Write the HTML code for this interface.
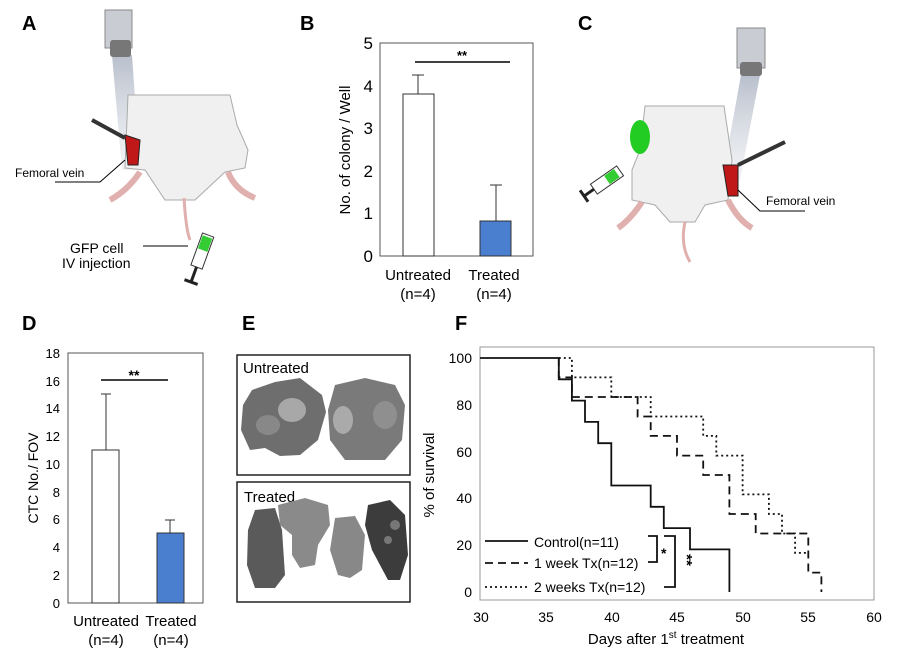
<!DOCTYPE html>
<html><head><meta charset="utf-8"><style>
body{margin:0;background:#fff}
svg{display:block;font-family:"Liberation Sans",sans-serif}
</style></head><body>
<svg width="900" height="661" viewBox="0 0 900 661">
<g font-weight="bold" font-size="20">
<text x="22" y="30">A</text><text x="300" y="30">B</text><text x="578" y="30">C</text>
<text x="22" y="330">D</text><text x="242" y="330">E</text><text x="455" y="330">F</text>
</g>
<defs><linearGradient id="lg" x1="0" y1="0" x2="0" y2="1"><stop offset="0" stop-color="#b8bfcc"/><stop offset="1" stop-color="#dde0e6" stop-opacity="0.4"/></linearGradient></defs>

<!-- Panel A -->
<polygon points="112,55 132,55 140,170 122,170" fill="url(#lg)"/>
<rect x="105" y="10" width="27" height="38" fill="#c9ccd2" stroke="#888"/>
<rect x="110" y="40" width="21" height="17" rx="3" fill="#777"/>
<path d="M128,95 L230,95 L237,125 L248,150 L245,168 L225,172 L195,200 L165,200 L145,170 L125,168 Z" fill="#f0f0f0" stroke="#aaa"/>
<path d="M140,172 Q128,190 110,200" stroke="#e0b0ae" stroke-width="6" fill="none"/>
<path d="M228,172 Q235,190 255,198" stroke="#e0b0ae" stroke-width="6" fill="none"/>
<path d="M184,198 Q186,230 190,240" stroke="#e0b0ae" stroke-width="3" fill="none"/>
<path d="M125,135 L140,140 L138,165 L128,165 Z" fill="#c01818" stroke="#222"/>
<line x1="92" y1="120" x2="125" y2="138" stroke="#333" stroke-width="4"/>
<polyline points="55,182 100,182 125,160" stroke="#000" fill="none"/>
<text x="15" y="177" font-size="12">Femoral vein</text>
<text x="70" y="253" font-size="14">GFP cell</text>
<text x="62" y="268" font-size="14">IV injection</text>
<line x1="143" y1="246" x2="188" y2="246" stroke="#000"/>
<g transform="translate(202,252) rotate(20)"><rect x="-6" y="-18" width="12" height="34" fill="#fff" stroke="#333"/><rect x="-5" y="-16" width="10" height="14" fill="#3c3"/><line x1="0" y1="16" x2="0" y2="32" stroke="#222" stroke-width="3"/><line x1="-7" y1="32" x2="7" y2="32" stroke="#222" stroke-width="3"/></g>

<!-- Panel C -->
<polygon points="741,75 760,75 740,180 722,180" fill="url(#lg)"/>
<rect x="737" y="28" width="28" height="40" fill="#c9ccd2" stroke="#888"/>
<rect x="740" y="62" width="22" height="14" rx="3" fill="#777"/>
<path d="M645,106 L724,106 L732,160 L728,200 L705,205 L695,222 L670,222 L655,205 L632,200 L632,170 L640,150 Z" fill="#f0f0f0" stroke="#aaa"/>
<ellipse cx="640" cy="137" rx="10" ry="17" fill="#22cc22"/>
<path d="M642,202 Q630,220 618,228" stroke="#e0b0ae" stroke-width="6" fill="none"/>
<path d="M728,200 Q738,220 752,228" stroke="#e0b0ae" stroke-width="6" fill="none"/>
<path d="M685,222 Q680,245 690,262" stroke="#e0b0ae" stroke-width="3" fill="none"/>
<path d="M723,165 L738,165 L738,196 L728,196 Z" fill="#c01818" stroke="#222"/>
<line x1="738" y1="165" x2="785" y2="142" stroke="#333" stroke-width="4"/>
<polyline points="738,190 760,211 805,211" stroke="#000" fill="none"/>
<text x="766" y="205" font-size="12">Femoral vein</text>
<g transform="translate(607,180) rotate(55)"><rect x="-6" y="-16" width="12" height="32" fill="#fff" stroke="#333"/><rect x="-5" y="-12" width="10" height="12" fill="#3c3"/><line x1="0" y1="16" x2="0" y2="28" stroke="#222" stroke-width="3"/><line x1="-7" y1="28" x2="7" y2="28" stroke="#222" stroke-width="3"/></g>

<!-- Panel B -->
<rect x="380" y="43" width="153" height="213" fill="none" stroke="#555"/>
<g font-size="17" text-anchor="end">
<text x="373" y="262">0</text><text x="373" y="219">1</text><text x="373" y="177">2</text><text x="373" y="134">3</text><text x="373" y="92">4</text><text x="373" y="49">5</text></g>
<text transform="translate(350,150) rotate(-90)" font-size="15" text-anchor="middle">No. of colony / Well</text>
<line x1="418" y1="94" x2="418" y2="75" stroke="#333"/><line x1="412" y1="75" x2="424" y2="75" stroke="#333"/>
<rect x="403" y="94" width="31" height="162" fill="#fff" stroke="#333"/>
<line x1="496" y1="221" x2="496" y2="185" stroke="#333"/><line x1="490" y1="185" x2="502" y2="185" stroke="#333"/>
<rect x="480" y="221" width="31" height="35" fill="#4a7fcf" stroke="#333"/>
<line x1="415" y1="62" x2="510" y2="62" stroke="#000" stroke-width="1.5"/>
<text x="462" y="60" font-size="13" text-anchor="middle" font-weight="bold">**</text>
<g font-size="15" text-anchor="middle"><text x="418" y="280">Untreated</text><text x="418" y="299">(n=4)</text><text x="494" y="280">Treated</text><text x="494" y="299">(n=4)</text></g>

<!-- Panel D -->
<rect x="68" y="353" width="135" height="250" fill="none" stroke="#555"/>
<g font-size="13" text-anchor="end">
<text x="60" y="608">0</text><text x="60" y="580">2</text><text x="60" y="552">4</text><text x="60" y="524">6</text><text x="60" y="497">8</text><text x="60" y="469">10</text><text x="60" y="441">12</text><text x="60" y="413">14</text><text x="60" y="386">16</text><text x="60" y="358">18</text></g>
<text transform="translate(38,478) rotate(-90)" font-size="14" text-anchor="middle">CTC No./ FOV</text>
<line x1="106" y1="450" x2="106" y2="394" stroke="#333"/><line x1="101" y1="394" x2="111" y2="394" stroke="#333"/>
<rect x="92" y="450" width="27" height="153" fill="#fff" stroke="#333"/>
<line x1="170" y1="533" x2="170" y2="520" stroke="#333"/><line x1="165" y1="520" x2="175" y2="520" stroke="#333"/>
<rect x="157" y="533" width="27" height="70" fill="#4a7fcf" stroke="#333"/>
<line x1="101" y1="380" x2="168" y2="380" stroke="#000" stroke-width="1.5"/>
<text x="134" y="380" font-size="14" text-anchor="middle" font-weight="bold">**</text>
<g font-size="15" text-anchor="middle"><text x="106" y="626">Untreated</text><text x="106" y="645">(n=4)</text><text x="171" y="626">Treated</text><text x="171" y="645">(n=4)</text></g>

<!-- Panel E -->
<rect x="237" y="355" width="173" height="120" fill="#fff" stroke="#222" stroke-width="1.5"/>
<text x="243" y="373" font-size="15">Untreated</text>
<path d="M252,390 L275,382 L300,378 L322,395 L326,412 L318,440 L300,455 L280,456 L265,448 L250,450 L241,430 L243,405 Z" fill="#6e6e6e"/>
<ellipse cx="292" cy="410" rx="14" ry="12" fill="#a8a8a8"/><ellipse cx="268" cy="425" rx="12" ry="10" fill="#888"/>
<path d="M335,385 L365,378 L395,385 L405,405 L402,440 L385,460 L345,460 L330,440 L328,410 Z" fill="#7a7a7a"/>
<ellipse cx="343" cy="420" rx="10" ry="14" fill="#aaa"/><ellipse cx="385" cy="415" rx="12" ry="14" fill="#8f8f8f"/>
<rect x="237" y="482" width="173" height="120" fill="#fff" stroke="#222" stroke-width="1.5"/>
<text x="244" y="502" font-size="15">Treated</text>
<path d="M255,510 L275,508 L282,530 L285,575 L275,588 L255,588 L247,565 L248,530 Z" fill="#5a5a5a"/>
<path d="M278,505 L305,498 L328,505 L330,525 L318,545 L315,565 L300,568 L292,555 L292,535 L280,525 Z" fill="#8a8a8a"/>
<path d="M335,518 L355,516 L365,535 L362,570 L350,578 L338,575 L330,550 Z" fill="#888"/>
<path d="M368,505 L390,500 L405,515 L408,555 L400,580 L388,580 L372,550 L365,525 Z" fill="#3c3c3c"/>
<circle cx="395" cy="525" r="5" fill="#777"/><circle cx="388" cy="540" r="4" fill="#777"/>

<!-- Panel F -->
<rect x="480" y="347" width="394" height="253" fill="none" stroke="#999"/>
<g font-size="14" text-anchor="end">
<text x="472" y="363">100</text><text x="472" y="410">80</text><text x="472" y="457">60</text><text x="472" y="503">40</text><text x="472" y="550">20</text><text x="472" y="597">0</text></g>
<g font-size="14" text-anchor="middle">
<text x="481" y="622">30</text><text x="546" y="622">35</text><text x="612" y="622">40</text><text x="677" y="622">45</text><text x="743" y="622">50</text><text x="808" y="622">55</text><text x="874" y="622">60</text></g>
<text x="666" y="644" font-size="15" text-anchor="middle">Days after 1<tspan font-size="10" dy="-6">st</tspan><tspan dy="6"> treatment</tspan></text>
<text transform="translate(434,475) rotate(-90)" font-size="15" text-anchor="middle">% of survival</text>
<g fill="none" stroke="#111" stroke-width="1.8">
<polyline points="480,358 558.8,358 558.8,379.3 571.9,379.3 571.9,400.6 585,400.6 585,421.9 598.2,421.9 598.2,443.2 611.3,443.2 611.3,485.5 650.7,485.5 650.7,506.8 663.8,506.8 663.8,528.1 690,528.1 690,549.4 729.4,549.4 729.4,592"/>
<polyline stroke-dasharray="8,5" points="558.8,358 558.8,377.4 571.9,377.4 571.9,397 637.6,397 637.6,416.5 650.7,416.5 650.7,435.9 677,435.9 677,455.6 703.2,455.6 703.2,475 729.4,475 729.4,514 755.7,514 755.7,533.5 808.3,533.5 808.3,572.6 821.4,572.6 821.4,592"/>
<polyline stroke-dasharray="2,3" points="558.8,358 571.9,358 571.9,377.4 611.3,377.4 611.3,397 650.7,397 650.7,416.5 703.2,416.5 703.2,435.9 716.3,435.9 716.3,455.6 742.6,455.6 742.6,494.4 768.9,494.4 768.9,514 782,514 782,533.5 795.1,533.5 795.1,552.9 808.3,552.9"/>
<line x1="485" y1="541" x2="528" y2="541"/>
<line x1="485" y1="563" x2="528" y2="563" stroke-dasharray="8,5"/>
<line x1="485" y1="587" x2="528" y2="587" stroke-dasharray="2,3"/>
<polyline points="648,536 657,536 657,562 648,562"/>
<polyline points="664,536 675,536 675,587 664,587"/>
</g>
<g font-size="14"><text x="534" y="547">Control(n=11)</text><text x="534" y="568">1 week Tx(n=12)</text><text x="534" y="592">2 weeks Tx(n=12)</text></g>
<text x="661" y="558" font-size="14" font-weight="bold">*</text>
<text transform="translate(682,560) rotate(90)" font-size="15" font-weight="bold" text-anchor="middle">**</text>
</svg>
</body></html>
